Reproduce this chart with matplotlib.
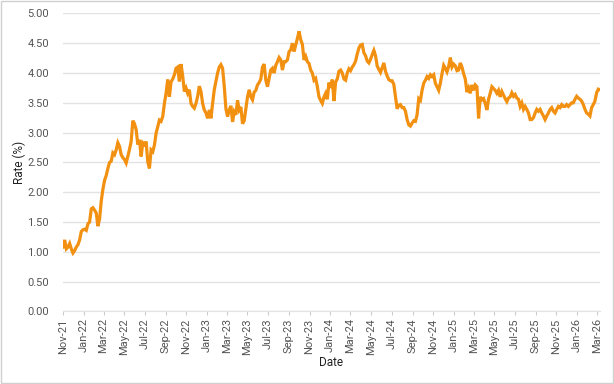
import matplotlib
matplotlib.use("Agg")
import matplotlib.pyplot as plt
import matplotlib.dates as mdates
from matplotlib.ticker import MultipleLocator, FormatStrFormatter
import pandas as pd

plt.rcParams['font.family'] = ['Roboto', 'DejaVu Sans']

# rate readings, evenly spaced in time from Nov 2021 to early Mar 2026
start_date = '2021-11-01'
end_date = '2026-03-10'

rate_2022a = [1.08, 1.20, 1.05, 1.08, 1.14, 1.05, 0.98, 1.02, 1.08, 1.12, 1.20, 1.34, 1.37, 1.38,
              1.36, 1.47, 1.50, 1.72, 1.74, 1.70, 1.65, 1.43, 1.55, 1.85, 2.05, 2.20, 2.28, 2.40,
              2.50, 2.52, 2.66, 2.63, 2.71, 2.83, 2.77, 2.63, 2.58, 2.55, 2.49, 2.60, 2.72, 2.85,
              3.20, 3.15, 3.05, 2.80, 2.88, 2.60, 2.83, 2.80, 2.85]
rate_2022b = [2.51, 2.40, 2.71, 2.68, 2.79, 2.99, 3.10, 3.21, 3.19, 3.27, 3.49, 3.66, 3.89, 3.60,
              3.85, 3.90, 3.97, 4.08, 4.10, 3.86, 4.15, 3.95, 3.69, 3.75, 3.66, 3.72, 3.49, 3.44,
              3.41, 3.49, 3.61, 3.78, 3.69, 3.49, 3.38, 3.33, 3.24, 3.38, 3.24, 3.49, 3.72, 3.86,
              4.00, 4.10, 4.14, 4.08, 3.78, 3.40, 3.27, 3.38, 3.45, 3.18, 3.35, 3.30]
rate_2023 = [3.54, 3.38, 3.43, 3.15, 3.20, 3.40, 3.60, 3.72, 3.60, 3.55, 3.68, 3.71, 3.80, 3.84,
             3.90, 4.10, 4.15, 3.88, 3.77, 3.91, 4.05, 4.08, 4.00, 4.13, 4.19, 4.26, 4.22, 4.05,
             4.19, 4.19, 4.22, 4.36, 4.39, 4.50, 4.36, 4.47, 4.58, 4.70, 4.56, 4.48, 4.22, 4.28,
             4.19, 4.16, 4.05, 4.00, 3.88, 3.91, 3.77, 3.60, 3.54, 3.49, 3.60, 3.66]
rate_2024 = [3.56, 3.84, 3.75, 3.89, 3.53, 3.85, 3.90, 4.03, 4.05, 4.00, 3.90, 3.88, 4.00, 4.07,
             4.04, 4.10, 4.14, 4.20, 4.32, 4.42, 4.47, 4.48, 4.34, 4.29, 4.20, 4.17, 4.23, 4.31,
             4.38, 4.29, 4.12, 4.06, 4.01, 4.09, 4.17, 4.03, 3.95, 3.89, 3.87, 3.87, 3.81, 3.60,
             3.40, 3.46, 3.47, 3.42, 3.42, 3.36, 3.22, 3.13, 3.11, 3.16, 3.20, 3.19]
rate_2025a = [3.30, 3.57, 3.54, 3.71, 3.83, 3.88, 3.94, 3.91, 3.97, 3.94, 3.97, 3.83, 3.77, 3.71,
              3.83, 3.99, 4.13, 4.08, 4.02, 4.11, 4.26, 4.10, 4.15, 4.12, 4.04, 4.05, 4.17, 4.10,
              3.99, 3.90, 3.68, 3.75, 3.66, 3.80, 3.71, 3.80, 3.77, 3.24, 3.60, 3.55, 3.57, 3.49,
              3.38, 3.56, 3.66, 3.77, 3.74, 3.71, 3.66, 3.71, 3.60, 3.69, 3.63, 3.57]
rate_2025b = [3.52, 3.58, 3.60, 3.67, 3.61, 3.64, 3.58, 3.56, 3.44, 3.50, 3.39, 3.44, 3.39, 3.33,
              3.22, 3.22, 3.25, 3.33, 3.39, 3.36, 3.39, 3.33, 3.28, 3.22, 3.28, 3.33, 3.39, 3.42,
              3.36, 3.33, 3.39, 3.44, 3.42, 3.47, 3.44, 3.44, 3.47, 3.44, 3.47, 3.50, 3.50, 3.56,
              3.61, 3.58, 3.56, 3.53, 3.47, 3.39, 3.33, 3.31, 3.28, 3.42, 3.47, 3.53, 3.67, 3.73,
              3.72]

rates = rate_2022a + rate_2022b + rate_2023 + rate_2024 + rate_2025a + rate_2025b
dates = pd.date_range(start_date, end_date, periods=len(rates))

fig = plt.figure(figsize=(6.14, 3.84), dpi=100)
ax = fig.add_axes([0.1026, 0.189, 0.8745, 0.776])

ax.plot(dates, rates, color='#F29111', linewidth=2.3, solid_joinstyle='miter')

ax.set_ylim(0, 5)
ax.yaxis.set_major_locator(MultipleLocator(0.5))
ax.yaxis.set_major_formatter(FormatStrFormatter('%.2f'))
ax.set_xlim(dates[0], dates[-1])
ax.xaxis.set_major_locator(mdates.MonthLocator(bymonth=[1, 3, 5, 7, 9, 11]))
ax.xaxis.set_major_formatter(mdates.DateFormatter('%b-%y'))

ax.grid(axis='y', color='#e3e3e3', linewidth=1)
ax.set_axisbelow(True)
for s in ['top', 'right', 'left']:
    ax.spines[s].set_visible(False)
ax.spines['bottom'].set_color('#e3e3e3')

ax.tick_params(axis='y', length=0, pad=10, labelsize=8, labelcolor='#555555')
ax.tick_params(axis='x', length=3, color='#cccccc', labelsize=8, labelcolor='#555555',
               rotation=90, pad=2)

ax.set_ylabel('Rate (%)', fontsize=8.5, color='#222222', labelpad=1)
ax.set_xlabel('Date', fontsize=8.5, color='#222222', labelpad=1)

# light frame round the figure
fig.patches.append(plt.Rectangle((0.001, 0.002), 0.997, 0.996, transform=fig.transFigure,
                                 fill=False, edgecolor='#d0d0d0', linewidth=1))

fig.savefig('out.png', dpi=100)
